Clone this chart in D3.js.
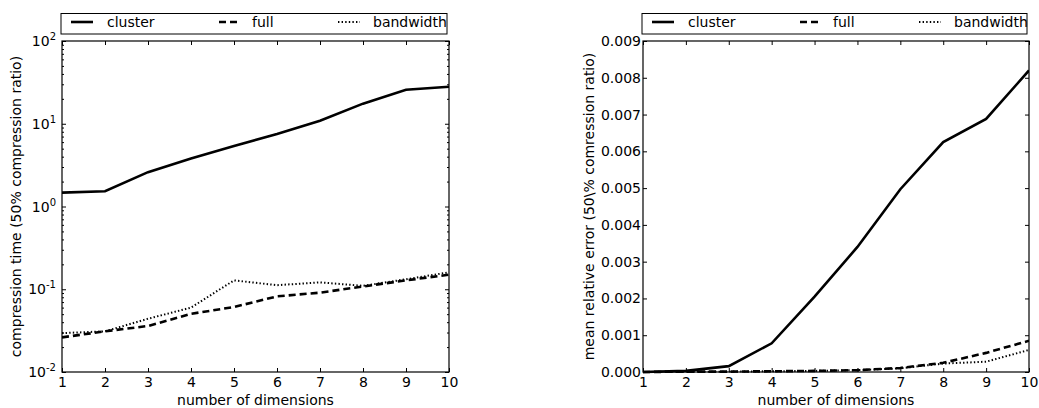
<!DOCTYPE html>
<html><head><meta charset="utf-8">
<script src="https://cdn.jsdelivr.net/npm/d3@7"></script>
<style>
body{margin:0;background:#fff;}
text{font-family:"DejaVu Sans",sans-serif;fill:#000;}
</style></head>
<body>
<svg id="c" width="1039" height="408"></svg>
<script>
const dims = [1,2,3,4,5,6,7,8,9,10];
const timeCluster = [1.47,1.53,2.6,3.8,5.4,7.5,10.9,17.5,25.7,28.0];
const timeFull = [0.0262,0.031,0.036,0.0505,0.061,0.082,0.091,0.108,0.128,0.15];
const timeBandwidth = [0.0295,0.031,0.044,0.06,0.128,0.112,0.121,0.11,0.132,0.16];
const errCluster = [0.0,0.00003,0.00016,0.00078,0.00205,0.0034,0.00497,0.00625,0.00688,0.0082];
const errFull = [0.0,0.00001,0.00001,0.00002,0.00003,0.00005,0.00011,0.00025,0.00052,0.00085];
const errBandwidth = [0.0,0.00001,0.00001,0.00002,0.00003,0.00005,0.0001,0.00023,0.00028,0.0006];
const seriesNames = ["cluster","full","bandwidth"];
const logTicks = [0.01,0.1,1,10,100];
const logTickExp = ["-2","-1","0","1","2"];
const linTicks = [0,0.001,0.002,0.003,0.004,0.005,0.006,0.007,0.008,0.009];

const styles = [
  {w:2.6, dash:null},
  {w:2.6, dash:"7,4"},
  {w:2.0, dash:"1.4,2.2"}
];

const svg = d3.select("#c");
const FS = 14;

function panel(x0, x1, y0, y1, yScaleType, series, ylabel, ylabelX) {
  const g = svg.append("g");
  const x = d3.scaleLinear().domain([1,10]).range([x0,x1]);
  let y;
  if (yScaleType === "log") y = d3.scaleLog().domain([0.01,100]).range([y1,y0]);
  else y = d3.scaleLinear().domain([0,0.009]).range([y1,y0]);

  const line = d3.line().x((d,i)=>x(dims[i])).y(d=>y(d));
  const clipId = "clip"+Math.round(x0);
  svg.append("clipPath").attr("id",clipId).append("rect")
    .attr("x",x0).attr("y",y0-2).attr("width",x1-x0).attr("height",y1-y0+4);
  series.slice().reverse().forEach((s,ri)=>{
    const i = series.length-1-ri;
    g.append("path").attr("d",line(s)).attr("fill","none").attr("stroke","#000")
      .attr("clip-path","url(#"+clipId+")")
      .attr("stroke-width",styles[i].w).attr("stroke-dasharray",styles[i].dash);
  });

  const xa = d3.axisBottom(x).tickValues(dims).tickSize(-4).tickPadding(5).tickFormat(d3.format("d"));
  const gx = g.append("g").attr("transform",`translate(0,${y1})`).call(xa);
  gx.select(".domain").remove();
  gx.selectAll("text").attr("font-size",FS).attr("font-family","DejaVu Sans").attr("dy","0.72em");
  const xt = d3.axisTop(x).tickValues(dims).tickSize(-4).tickFormat("");
  const gxt = g.append("g").attr("transform",`translate(0,${y0})`).call(xt);
  gxt.select(".domain").remove();

  if (yScaleType === "log") {
    const minor = [];
    [0.01,0.1,1,10].forEach(b=>{for(let k=2;k<=9;k++) minor.push(b*k);});
    [[d3.axisLeft, x0],[d3.axisRight, x1]].forEach(([ax,pos])=>{
      const gm = g.append("g").attr("transform",`translate(${pos},0)`)
        .call(ax(y).tickValues(minor).tickSize(-2).tickFormat(""));
      gm.select(".domain").remove();
      const gM = g.append("g").attr("transform",`translate(${pos},0)`)
        .call(ax(y).tickValues(logTicks).tickSize(-4).tickFormat(""));
      gM.select(".domain").remove();
    });
    logTicks.forEach((v,i)=>{
      const t = g.append("text").attr("x",x0-6).attr("y",y(v)+5).attr("text-anchor","end").attr("font-size",FS);
      t.append("tspan").text("10");
      t.append("tspan").attr("dy",-6).attr("font-size",10).text(logTickExp[i]);
    });
  } else {
    [[d3.axisLeft, x0],[d3.axisRight, x1]].forEach(([ax,pos])=>{
      const gM = g.append("g").attr("transform",`translate(${pos},0)`)
        .call(ax(y).tickValues(linTicks).tickSize(-4).tickFormat(""));
      gM.select(".domain").remove();
    });
    linTicks.forEach(v=>{
      g.append("text").attr("x",x0-2).attr("y",y(v)+5).attr("text-anchor","end").attr("font-size",FS)
        .text(d3.format(".3f")(v));
    });
  }
  g.selectAll(".tick line").attr("stroke","#000").attr("stroke-width",1);

  g.append("rect").attr("x",x0).attr("y",y0).attr("width",x1-x0).attr("height",y1-y0)
    .attr("fill","none").attr("stroke","#000").attr("stroke-width",1.2);

  g.append("text").attr("x",(x0+x1)/2).attr("y",405).attr("text-anchor","middle").attr("font-size",FS)
    .text("number of dimensions");
  g.append("text").attr("transform",`translate(${ylabelX},${(y0+y1)/2}) rotate(-90)`)
    .attr("text-anchor","middle").attr("font-size",FS).text(ylabel);

  const lx0 = x0-1, lx1 = x1-2, ly0 = 13.5, ly1 = 34;
  g.append("rect").attr("x",lx0).attr("y",ly0).attr("width",lx1-lx0).attr("height",ly1-ly0)
    .attr("fill","#fff").attr("stroke","#000").attr("stroke-width",1);
  const sampleOff = [10,158,277], textOff = [46,191,312];
  seriesNames.forEach((n,i)=>{
    g.append("line").attr("x1",lx0+sampleOff[i]).attr("x2",lx0+sampleOff[i]+22)
      .attr("y1",22).attr("y2",22).attr("stroke","#000")
      .attr("stroke-width",styles[i].w).attr("stroke-dasharray",styles[i].dash);
    g.append("text").attr("x",lx0+textOff[i]).attr("y",27).attr("font-size",FS).text(n);
  });
}

panel(62, 449, 41, 372, "log", [timeCluster,timeFull,timeBandwidth],
  "compression time (50% compression ratio)", 21);
panel(643, 1029, 41, 372, "lin", [errCluster,errFull,errBandwidth],
  "mean relative error (50\\% comression ratio)", 594);
</script>
</body></html>
